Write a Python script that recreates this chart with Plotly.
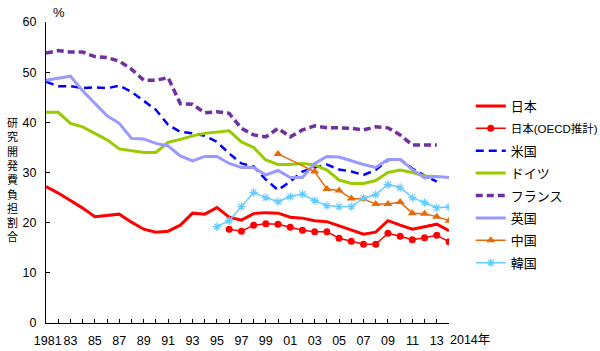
import plotly.graph_objects as go

years = list(range(1981, 2015))

japan = [27.2, 25.9, 24.4, 22.9, 21.2, 21.4, 21.7, 20.1, 18.7, 18.1,
         18.3, 19.5, 21.9, 21.7, 23.0, 21.1, 20.5, 21.8, 22.0, 21.9,
         21.1, 20.9, 20.4, 20.2, 19.4, 18.5, 17.7, 18.1, 20.4, 19.5,
         18.7, 19.2, 19.7, 18.4]

japan_oecd = [None] * 15 + [18.7, 18.3, 19.5, 19.8, 19.7, 19.1, 18.5, 18.2, 18.2,
                            16.9, 16.3, 15.7, 15.7, 17.9, 17.3, 16.6, 17.0, 17.5, 16.2]

usa = [48.1, 47.2, 47.2, 46.8, 47.0, 46.8, 47.3, 46.1, 44.3, 42.5,
       39.5, 38.1, 37.8, 37.3, 36.1, 33.8, 31.8, 31.2, 28.6, 26.5,
       28.2, 30.2, 31.0, 31.6, 30.6, 30.2, 29.5, 30.5, 32.5, 32.6,
       30.8, 29.4, 28.2, None]

germany = [42.0, 42.0, 39.8, 39.1, 37.8, 36.5, 34.7, 34.3, 34.0, 34.0,
           36.0, 36.6, 37.3, 37.8, 38.1, 38.3, 36.1, 35.0, 32.5, 31.6,
           31.6, 31.8, 31.5, 30.5, 28.5, 27.8, 27.8, 28.4, 30.0, 30.5,
           30.0, 29.3, 29.2, None]

france = [53.8, 54.3, 54.0, 54.0, 53.1, 52.9, 52.2, 50.6, 48.4, 48.4,
          48.9, 43.7, 43.6, 41.9, 42.1, 41.8, 38.8, 37.5, 37.1, 38.8,
          37.1, 38.5, 39.3, 38.9, 38.9, 38.8, 38.5, 39.1, 38.9, 37.5,
          35.5, 35.5, 35.5, None]

uk = [48.4, 48.8, 49.2, 46.3, 43.7, 41.3, 39.8, 36.8, 36.7, 35.8,
      35.3, 33.3, 32.3, 33.2, 33.2, 31.8, 31.0, 31.0, 29.5, 30.4,
      29.0, 29.0, 31.8, 33.2, 33.1, 32.3, 31.6, 31.0, 32.6, 32.6,
      30.6, 28.9, 29.2, 29.0]

china = [None] * 19 + [33.7, None, None, 30.2, 26.7, 26.4, 24.8, 24.7, 23.7,
                       23.7, 24.1, 21.9, 21.8, 21.2, 20.4]

korea = [None] * 14 + [19.2, 20.4, 23.2, 26.0, 25.0, 24.2, 25.2, 25.7, 24.4,
                       23.4, 23.2, 23.2, 24.9, 25.6, 27.6, 27.0, 25.0, 24.0,
                       23.0, 23.1]

x_tick_labels = ["\u00a01981", "83", "85", "87", "89", "91", "93", "95", "97", "99",
                 "01", "03", "05", "07", "09", "11", "13"]
last_tick_label = "2014年"
y_title_chars = list("研究開発費負担割合")

FONT = "Arial, 'Liberation Sans', 'Noto Sans CJK JP', sans-serif"

fig = go.Figure()

fig.add_trace(go.Scatter(x=years, y=japan, name="日本", mode="lines",
                         line=dict(color="#FF0000", width=3), legendgroup="a"))
fig.add_trace(go.Scatter(x=years, y=japan_oecd,
                         name='<span style="font-size:11.5px">日本(OECD推計)</span>',
                         mode="lines+markers",
                         line=dict(color="#FF0000", width=1.5),
                         marker=dict(symbol="circle", size=7, color="#FF0000"),
                         legendgroup="b"))
fig.add_trace(go.Scatter(x=years, y=usa, name="米国", mode="lines",
                         line=dict(color="#0000FF", width=2.5, dash="8px,5px"),
                         legendgroup="c"))
fig.add_trace(go.Scatter(x=years, y=germany, name="ドイツ", mode="lines",
                         line=dict(color="#99CC00", width=3), legendgroup="d"))
fig.add_trace(go.Scatter(x=years, y=france, name="フランス", mode="lines",
                         line=dict(color="#7030A0", width=3.5, dash="7px,4px"),
                         legendgroup="e"))
fig.add_trace(go.Scatter(x=years, y=uk, name="英国", mode="lines",
                         line=dict(color="#9999FF", width=3), legendgroup="f"))
fig.add_trace(go.Scatter(x=years, y=china, name="中国", mode="lines+markers",
                         connectgaps=True,
                         line=dict(color="#E36C09", width=1.5),
                         marker=dict(symbol="triangle-up", size=8, color="#E36C09"),
                         legendgroup="g"))
fig.add_trace(go.Scatter(x=years, y=korea, name="韓国", mode="lines+markers",
                         line=dict(color="#66CCFF", width=1.5),
                         marker=dict(symbol="asterisk-open", size=7,
                                     line=dict(color="#66CCFF", width=1.2)),
                         legendgroup="h"))

tickvals = [y for y in years if (y - 1981) % 2 == 0 and y < 2014]

fig.update_layout(
    width=600, height=351,
    margin=dict(l=46, r=151, t=22, b=28, autoexpand=False),
    plot_bgcolor="white", paper_bgcolor="white",
    font=dict(family=FONT, size=13, color="black"),
    showlegend=True,
    legend=dict(x=1.054, y=0.771, xanchor="left", yanchor="top",
                font=dict(size=13), tracegroupgap=2.5,
                bgcolor="rgba(0,0,0,0)"),
    xaxis=dict(range=[1981, 2014], showline=True, linecolor="black", linewidth=1,
               ticks="inside", ticklen=4, tickcolor="black",
               tickmode="array", tickvals=years,
               ticktext=[x_tick_labels[tickvals.index(y)] if y in tickvals else ""
                         for y in years],
               ticklabelstandoff=6, tickangle=0, automargin=False,
               showgrid=False, zeroline=False, tickfont=dict(size=12.5)),
    yaxis=dict(range=[0, 60], dtick=10, showline=True, linecolor="black", linewidth=1,
               ticks="inside", ticklen=4, tickcolor="black",
               ticklabelstandoff=6, automargin=False,
               showgrid=False, zeroline=False, tickfont=dict(size=12.5)),
)

fig.add_annotation(x=2014, y=0, xref="x", yref="paper", text=last_tick_label,
                   showarrow=False, xanchor="left", yanchor="top",
                   xshift=-1, yshift=-8, font=dict(size=12.5))
fig.add_annotation(x=-0.082, y=0.476, xref="paper", yref="paper",
                   text="<br>".join(y_title_chars), showarrow=False,
                   xanchor="center", yanchor="middle", font=dict(size=11))
fig.add_annotation(x=(59 - 46) / 403, y=(323 - 13) / 301, xref="paper", yref="paper",
                   text="%", showarrow=False, xanchor="center", yanchor="middle",
                   font=dict(size=13))

fig.write_html("out.html")
